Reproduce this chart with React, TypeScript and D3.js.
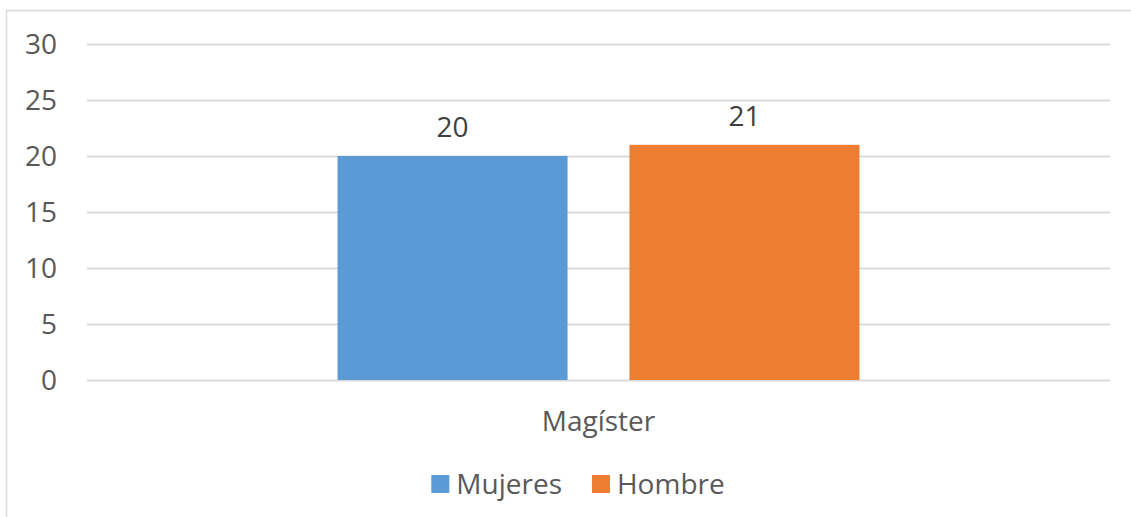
import React, { useEffect, useRef } from 'react';
import * as d3 from 'd3';

const categories = ['Magíster'];
const seriesNames = ['Mujeres', 'Hombre'];
const mujeres = [20];
const hombre = [21];
const yTicks = [0, 5, 10, 15, 20, 25, 30];
const colors = ['#5b9bd5', '#ed7d31'];

const W = 1131;
const H = 517;
const FONT = '"Open Sans", "Noto Sans", sans-serif';

const App = () => {
  const ref = useRef<SVGSVGElement>(null);

  useEffect(() => {
    const svg = d3.select(ref.current);
    svg.selectAll('*').remove();

    const left = 87;
    const right = 1110;
    const top = 44;
    const bottom = 380;

    // chart border
    svg
      .append('rect')
      .attr('x', 6.5)
      .attr('y', 10.5)
      .attr('width', W + 10)
      .attr('height', H + 10)
      .attr('fill', '#fff')
      .attr('stroke', '#d9d9d9')
      .attr('stroke-width', 1.5);

    const y = d3.scaleLinear().domain([0, 30]).range([bottom, top]);
    const x0 = d3.scaleBand().domain(categories).range([left, right]).paddingInner(0).paddingOuter(0.48);
    const x1 = d3.scaleBand().domain(seriesNames).range([0, x0.bandwidth()]).paddingInner(0.212).paddingOuter(0);

    // gridlines
    svg
      .append('g')
      .selectAll('line')
      .data(yTicks)
      .enter()
      .append('line')
      .attr('x1', left)
      .attr('x2', right)
      .attr('y1', (d) => Math.round(y(d)) + 0.5)
      .attr('y2', (d) => Math.round(y(d)) + 0.5)
      .attr('stroke', '#d9d9d9')
      .attr('stroke-width', 2);

    // y tick labels
    svg
      .append('g')
      .selectAll('text')
      .data(yTicks)
      .enter()
      .append('text')
      .attr('x', 57)
      .attr('y', (d) => y(d))
      .attr('dy', '0.36em')
      .attr('text-anchor', 'end')
      .style('font-family', FONT)
      .style('font-size', '28px')
      .style('fill', '#595959')
      .text((d) => d);

    const rows = categories.map((c, i) => ({
      category: c,
      values: [
        { key: seriesNames[0], value: mujeres[i] },
        { key: seriesNames[1], value: hombre[i] },
      ],
    }));

    const groups = svg
      .append('g')
      .selectAll('g')
      .data(rows)
      .enter()
      .append('g')
      .attr('transform', (d) => `translate(${x0(d.category)},0)`);

    groups
      .selectAll('rect')
      .data((d) => d.values)
      .enter()
      .append('rect')
      .attr('x', (d) => x1(d.key)!)
      .attr('width', x1.bandwidth())
      .attr('y', (d) => y(d.value))
      .attr('height', (d) => y(0) - y(d.value))
      .attr('fill', (d, i) => colors[i]);

    // data labels
    groups
      .selectAll('text.val')
      .data((d) => d.values)
      .enter()
      .append('text')
      .attr('class', 'val')
      .attr('x', (d) => x1(d.key)! + x1.bandwidth() / 2)
      .attr('y', (d) => y(d.value) - 19)
      .attr('text-anchor', 'middle')
      .style('font-family', FONT)
      .style('font-size', '28px')
      .style('fill', '#404040')
      .text((d) => d.value);

    // category label
    svg
      .append('g')
      .selectAll('text')
      .data(categories)
      .enter()
      .append('text')
      .attr('x', (d) => x0(d)! + x0.bandwidth() / 2)
      .attr('y', 431)
      .attr('text-anchor', 'middle')
      .style('font-family', FONT)
      .style('font-size', '28px')
      .style('fill', '#595959')
      .text((d) => d);

    // legend
    const legend = svg.append('g');
    const items = legend
      .selectAll('g')
      .data(seriesNames)
      .enter()
      .append('g');
    items
      .append('rect')
      .attr('width', 18)
      .attr('height', 18)
      .attr('y', 475)
      .attr('fill', (d, i) => colors[i]);
    items
      .append('text')
      .attr('x', 25)
      .attr('y', 484)
      .attr('dy', '0.36em')
      .style('font-family', FONT)
      .style('font-size', '28px')
      .style('fill', '#595959')
      .text((d) => d);

    let offset = 0;
    const widths: number[] = [];
    items.each(function () {
      const t = d3.select(this).select('text').node() as SVGTextElement;
      widths.push(25 + t.getComputedTextLength());
    });
    const gap = 30;
    const total = d3.sum(widths) + gap * (widths.length - 1);
    const start = 578 - total / 2;
    items.attr('transform', (d, i) => {
      const tx = start + offset;
      offset += widths[i] + gap;
      return `translate(${tx},0)`;
    });
  }, []);

  return (
    <svg
      ref={ref}
      width={W}
      height={H}
      style={{ position: 'fixed', left: 0, top: 0, background: '#fff' }}
    />
  );
};

export default App;
